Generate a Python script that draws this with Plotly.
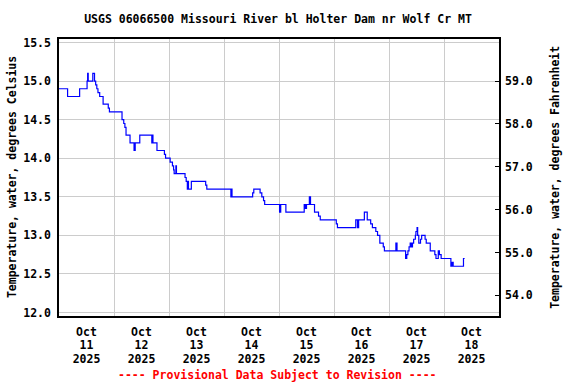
import plotly.graph_objects as go

# --- data (step changes, water temperature in deg C) ---
times = [
    "2025-10-11 00:00", "2025-10-11 03:45", "2025-10-11 09:00", "2025-10-11 12:15",
    "2025-10-11 12:30", "2025-10-11 12:45", "2025-10-11 14:45", "2025-10-11 15:30",
    "2025-10-11 16:00", "2025-10-11 16:30", "2025-10-11 17:00", "2025-10-11 17:45",
    "2025-10-11 19:15", "2025-10-11 21:30", "2025-10-11 22:00", "2025-10-12 03:30",
    "2025-10-12 04:15", "2025-10-12 04:45", "2025-10-12 05:15", "2025-10-12 07:00",
    "2025-10-12 08:45", "2025-10-12 09:15", "2025-10-12 11:15", "2025-10-12 16:30",
    "2025-10-12 16:45", "2025-10-12 17:00", "2025-10-12 18:45", "2025-10-12 22:00",
    "2025-10-12 22:30", "2025-10-13 00:30", "2025-10-13 01:30", "2025-10-13 02:00",
    "2025-10-13 02:15", "2025-10-13 03:00", "2025-10-13 03:15", "2025-10-13 07:00",
    "2025-10-13 07:30", "2025-10-13 08:00", "2025-10-13 08:15", "2025-10-13 08:30",
    "2025-10-13 09:45", "2025-10-13 16:00", "2025-10-13 16:30", "2025-10-14 03:00",
    "2025-10-14 03:15", "2025-10-14 03:30", "2025-10-14 12:30", "2025-10-14 13:00",
    "2025-10-14 15:45", "2025-10-14 16:30", "2025-10-14 17:15", "2025-10-14 17:45",
    "2025-10-15 00:15", "2025-10-15 00:45", "2025-10-15 03:00", "2025-10-15 11:00",
    "2025-10-15 11:30", "2025-10-15 12:00", "2025-10-15 13:15", "2025-10-15 13:45",
    "2025-10-15 15:30", "2025-10-15 17:15", "2025-10-15 18:00", "2025-10-16 01:00",
    "2025-10-16 01:30", "2025-10-16 09:30", "2025-10-16 10:15", "2025-10-16 10:45",
    "2025-10-16 13:15", "2025-10-16 14:30", "2025-10-16 16:00", "2025-10-16 16:45",
    "2025-10-16 18:15", "2025-10-16 19:00", "2025-10-16 20:00", "2025-10-16 21:30",
    "2025-10-16 22:00", "2025-10-17 03:00", "2025-10-17 03:30", "2025-10-17 07:15",
    "2025-10-17 07:45", "2025-10-17 08:15", "2025-10-17 08:45", "2025-10-17 09:15",
    "2025-10-17 09:45", "2025-10-17 10:15", "2025-10-17 10:45", "2025-10-17 11:30",
    "2025-10-17 11:45", "2025-10-17 12:15", "2025-10-17 12:30", "2025-10-17 13:00",
    "2025-10-17 13:45", "2025-10-17 14:15", "2025-10-17 15:45", "2025-10-17 16:15",
    "2025-10-17 18:00", "2025-10-17 20:00", "2025-10-17 20:30", "2025-10-17 21:30",
    "2025-10-17 22:00", "2025-10-17 22:45", "2025-10-18 03:00", "2025-10-18 03:30",
    "2025-10-18 04:00", "2025-10-18 08:30", "2025-10-18 09:00",
]
temps_c = [
    14.9, 14.8, 14.9, 15.0,
    15.1, 15.0, 15.1, 15.0,
    14.95, 14.9, 14.85, 14.8,
    14.7, 14.65, 14.6, 14.5,
    14.45, 14.4, 14.3, 14.2,
    14.1, 14.2, 14.3, 14.2,
    14.3, 14.2, 14.1, 14.05,
    14.0, 13.95, 13.9, 13.85,
    13.8, 13.9, 13.8, 13.75,
    13.7, 13.6, 13.7, 13.6,
    13.7, 13.65, 13.6, 13.5,
    13.6, 13.5, 13.55, 13.6,
    13.55, 13.5, 13.45, 13.4,
    13.3, 13.4, 13.3, 13.4,
    13.35, 13.4, 13.5, 13.4,
    13.3, 13.25, 13.2, 13.15,
    13.1, 13.2, 13.1, 13.2,
    13.3, 13.2, 13.15, 13.1,
    13.05, 13.0, 12.9, 12.85,
    12.8, 12.9, 12.8, 12.7,
    12.75, 12.8, 12.85, 12.9,
    12.85, 12.9, 12.95, 13.0,
    13.05, 13.1, 13.0, 12.9,
    12.95, 13.0, 12.95, 12.9,
    12.8, 12.75, 12.7, 12.8,
    12.75, 12.7, 12.6, 12.65,
    12.6, 12.7, 12.7,
]

title_text = "USGS 06066500 Missouri River bl Holter Dam nr Wolf Cr MT"
left_title = "Temperature, water, degrees Celsius"
right_title = "Temperature, water, degrees Fahrenheit"
footer_text = "---- Provisional Data Subject to Revision ----"
x_range = ["2025-10-11", "2025-10-19"]
c_range = [11.955, 15.545]
f_range = [c * 1.8 + 32 for c in c_range]

FONT = "DejaVu Sans Mono"
font = dict(family=FONT, size=11.5, color="black", weight="bold")

L, R, T, B = 58.5, 76.5, 39, 68
W, H = 576, 384
pw, ph = W - L - R, H - T - B

fig = go.Figure()
fig.add_trace(go.Scatter(x=times, y=temps_c, mode="lines", line_shape="hv",
                         line=dict(color="#0000FF", width=1.2), showlegend=False))
# invisible traces to activate the secondary axes
fig.add_trace(go.Scatter(x=[times[0]], y=[f_range[0]], yaxis="y2", mode="markers",
                         marker=dict(opacity=0), showlegend=False, hoverinfo="skip"))
fig.add_trace(go.Scatter(x=[times[0]], y=[c_range[0]], xaxis="x2", mode="markers",
                         marker=dict(opacity=0), showlegend=False, hoverinfo="skip"))
fig.add_trace(go.Scatter(x=[times[0]], y=[c_range[0]], xaxis="x3", mode="markers",
                         marker=dict(opacity=0), showlegend=False, hoverinfo="skip"))

xcommon = dict(range=x_range, type="date", tick0="2025-10-11", dtick=86400000,
               ticklabelmode="period", ticks="", tickfont=font, zeroline=False,
               automargin=False)

fig.update_layout(
    width=W, height=H,
    margin=dict(l=L, r=R, t=T, b=B, autoexpand=False),
    paper_bgcolor="white", plot_bgcolor="white",
    font=font,
    title=dict(text=title_text, x=(278 - L) / pw, xref="paper", y=1 - 19 / H,
               yref="container", yanchor="middle", xanchor="center", font=font,
               automargin=False),
    xaxis=dict(**xcommon, tickformat="%b", showgrid=True, gridcolor="#CCCCCC",
               gridwidth=1, showline=True, linecolor="black", linewidth=1.5,
               mirror=True, ticklabelstandoff=4),
    xaxis2=dict(**xcommon, tickformat="%d", overlaying="x", anchor="y", side="bottom",
                showgrid=False, showline=False, ticklabelstandoff=20),
    xaxis3=dict(**xcommon, tickformat="%Y", overlaying="x", anchor="y", side="bottom",
                showgrid=False, showline=False, ticklabelstandoff=34),
    yaxis=dict(range=c_range, dtick=0.5, tick0=12.0, tickformat=".1f",
               showgrid=True, gridcolor="#CCCCCC", gridwidth=1, showline=True,
               linecolor="black", linewidth=1.5, mirror=True, ticks="",
               tickfont=font, zeroline=False, automargin=False, ticklabelstandoff=4),
    yaxis2=dict(range=f_range, dtick=1, tick0=54, tickformat=".1f", overlaying="y",
                side="right", showgrid=False, showline=True, linecolor="black",
                linewidth=1.5, ticks="inside", ticklen=4, tickcolor="black",
                tickfont=font, zeroline=False, automargin=False, ticklabelstandoff=2),
    annotations=[
        dict(text=footer_text, xref="paper", yref="paper", x=(277.5 - L) / pw,
             y=-(375 - T - ph) / ph, xanchor="center", yanchor="middle",
             showarrow=False,
             font=dict(family=FONT, size=11.5, color="red", weight="bold")),
        dict(text=left_title, xref="paper", yref="paper", x=(11 - L) / pw, y=0.5,
             xanchor="center", yanchor="middle", textangle=-90, showarrow=False,
             font=font),
        dict(text=right_title, xref="paper", yref="paper", x=(555 - L) / pw, y=0.5,
             xanchor="center", yanchor="middle", textangle=-90, showarrow=False,
             font=font),
    ],
)

fig.write_html("out.html",
               config={"displayModeBar": False},
               post_script="document.body.style.margin='0';"
                           "document.body.style.overflow='hidden';")
